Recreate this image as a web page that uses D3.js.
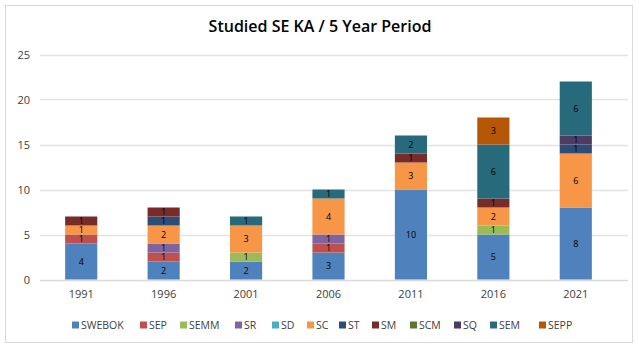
<!DOCTYPE html>
<html>
<head>
<meta charset="utf-8">
<script src="https://cdn.jsdelivr.net/npm/d3@7"></script>
<style>
  body { margin: 0; background: #fff; }
  svg text { font-family: "Open Sans", "Liberation Sans", sans-serif; }
</style>
</head>
<body>
<div id="chart"></div>
<script>
var years = ['1991', '1996', '2001', '2006', '2011', '2016', '2021'];
var seriesNames = ['SWEBOK', 'SEP', 'SEMM', 'SR', 'SD', 'SC', 'ST', 'SM', 'SCM', 'SQ', 'SEM', 'SEPP'];
var seriesColors = ['#4F81BD', '#C0504D', '#9BBB59', '#8064A2', '#4BACC6', '#F79646',
  '#2C4D75', '#772C2A', '#5F7530', '#4D3B62', '#276A7C', '#B65708'];

// one value per year, same order as years
var SWEBOK = [4, 2, 2, 3, 10, 5, 8];
var SEP    = [1, 1, 0, 1, 0, 0, 0];
var SEMM   = [0, 0, 1, 0, 0, 1, 0];
var SR     = [0, 1, 0, 1, 0, 0, 0];
var SD     = [0, 0, 0, 0, 0, 0, 0];
var SC     = [1, 2, 3, 4, 3, 2, 6];
var ST     = [0, 1, 0, 0, 0, 0, 1];
var SM     = [1, 1, 0, 0, 1, 1, 0];
var SCM    = [0, 0, 0, 0, 0, 0, 0];
var SQ     = [0, 0, 0, 0, 0, 0, 1];
var SEM    = [0, 0, 1, 1, 2, 6, 6];
var SEPP   = [0, 0, 0, 0, 0, 3, 0];
var yTicks = [0, 5, 10, 15, 20, 25];

var values = [SWEBOK, SEP, SEMM, SR, SD, SC, ST, SM, SCM, SQ, SEM, SEPP];

var W = 639, H = 349;

var table = years.map(function(y, i) {
  var row = { year: y };
  seriesNames.forEach(function(s, k) { row[s] = values[k][i]; });
  return row;
});

var stacked = d3.stack().keys(seriesNames)(table);

var svg = d3.select('#chart').append('svg')
  .attr('width', W)
  .attr('height', H);

// chart area border
svg.append('rect')
  .attr('x', 5.5).attr('y', 5.5)
  .attr('width', 627).attr('height', 337)
  .attr('fill', '#fff')
  .attr('stroke', '#d9d9d9');

svg.append('text')
  .attr('x', 320).attr('y', 32)
  .attr('text-anchor', 'middle')
  .style('font-size', '16px')
  .style('font-weight', '600')
  .attr('fill', '#000')
  .text('Studied SE KA / 5 Year Period');

var x = d3.scaleBand()
  .domain(years)
  .range([40, 617])
  .paddingInner(0.61)
  .paddingOuter(0.305);

var y = d3.scaleLinear()
  .domain([0, 25])
  .range([279.5, 54.5]);

// gridlines
svg.append('g')
  .selectAll('line')
  .data(yTicks)
  .enter().append('line')
  .attr('x1', 40).attr('x2', 628)
  .attr('y1', (d) => Math.round(y(d)) + 0.5)
  .attr('y2', (d) => Math.round(y(d)) + 0.5)
  .attr('stroke', (d) => d === 0 ? '#d9d9d9' : '#e3e3e3')
  .attr('stroke-width', 1.5);

// y axis labels
var yAxis = d3.axisLeft(y).tickValues(yTicks).tickSize(0).tickPadding(0);
var gy = svg.append('g')
  .attr('transform', 'translate(30,0)')
  .call(yAxis);
gy.select('.domain').remove();
gy.selectAll('text')
  .style('font-size', '11px')
  .attr('fill', '#404040');

// x axis labels
var xAxis = d3.axisBottom(x).tickSize(0).tickPadding(0);
var gx = svg.append('g')
  .attr('transform', 'translate(0,290)')
  .call(xAxis);
gx.select('.domain').remove();
gx.selectAll('text')
  .style('font-size', '11px')
  .attr('fill', '#404040');

// bars
var layers = svg.append('g')
  .selectAll('g')
  .data(stacked)
  .enter().append('g')
  .attr('fill', (d, i) => seriesColors[i]);

layers.selectAll('rect')
  .data((d) => d.filter((p) => p[1] - p[0] > 0))
  .enter().append('rect')
  .attr('x', (d) => x(d.data.year))
  .attr('y', (d) => y(d[1]))
  .attr('width', x.bandwidth())
  .attr('height', (d) => y(d[0]) - y(d[1]));

layers.selectAll('text')
  .data((d) => d.filter((p) => p[1] - p[0] > 0))
  .enter().append('text')
  .attr('x', (d) => x(d.data.year) + x.bandwidth() / 2)
  .attr('y', (d) => (y(d[0]) + y(d[1])) / 2 + 3)
  .attr('text-anchor', 'middle')
  .attr('fill', '#000')
  .style('font-size', '9px')
  .text((d) => d[1] - d[0]);

// legend
var legendX = [72, 140, 180, 235, 272, 307, 339, 372, 410, 454, 490, 539];
var legend = svg.append('g')
  .attr('transform', 'translate(0,325)');

var items = legend.selectAll('g')
  .data(seriesNames)
  .enter().append('g')
  .attr('transform', (d, i) => 'translate(' + legendX[i] + ',0)');

items.append('rect')
  .attr('x', 0).attr('y', -3.5)
  .attr('width', 7).attr('height', 7)
  .attr('fill', (d, i) => seriesColors[i]);

items.append('text')
  .attr('x', 9).attr('y', 4)
  .style('font-size', '10.5px')
  .attr('fill', '#404040')
  .text((d) => d);
</script>
</body>
</html>
